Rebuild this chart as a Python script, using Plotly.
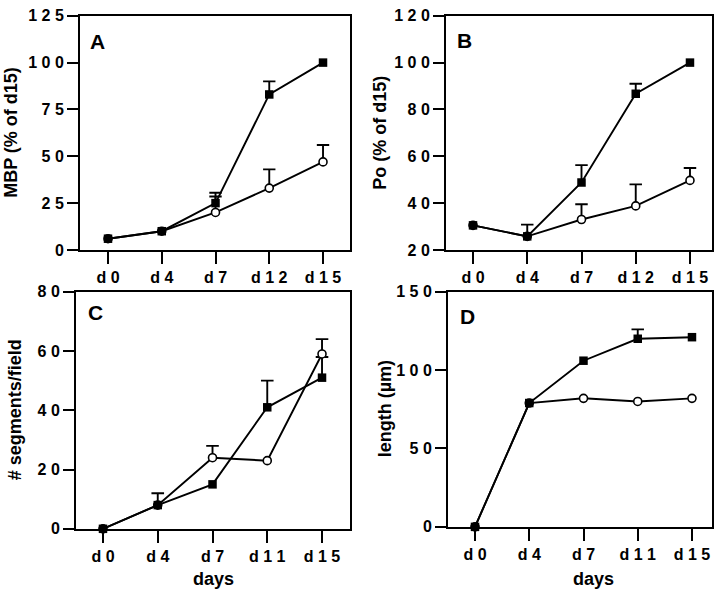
import plotly.graph_objects as go

# ---------------- data ----------------
days_AB = ["d0", "d4", "d7", "d12", "d15"]
days_CD = ["d0", "d4", "d7", "d11", "d15"]

A_filled = [6, 10, 25, 83, 100]
A_filled_up = [None, None, 30.5, 90, None]
A_open = [6, 10, 20, 33, 47]
A_open_up = [None, None, 28.5, 43, 56]

B_filled = [30.5, 25.8, 48.8, 86.7, 100]
B_filled_up = [None, 30.8, 56.2, 91, None]
B_open = [30.5, 25.8, 33, 38.8, 49.7]
B_open_up = [None, None, 39.5, 48, 55]

C_filled = [0, 8, 15, 41, 51]
C_filled_up = [None, None, None, 50, 58]
C_open = [0, 8, 24, 23, 59]
C_open_up = [None, 12, 28, None, 64]

D_filled = [0, 79, 106, 120, 121]
D_filled_up = [None, None, None, 126, None]
D_open = [0, 79, 82, 80, 82]
D_open_up = [None, None, None, None, None]

A_yticks = [0, 25, 50, 75, 100, 125]
B_yticks = [20, 40, 60, 80, 100, 120]
C_yticks = [0, 20, 40, 60, 80]
D_yticks = [0, 50, 100, 150]

W, H = 720, 600
FONT = "Liberation Sans, Arial, Helvetica, sans-serif"


def spaced(s):
    return " ".join(list(str(s)))


panels = [
    dict(cats=days_AB, f=A_filled, fu=A_filled_up, o=A_open, ou=A_open_up, yt=A_yticks,
         xpx=(80, 350), ypx=(8, 249), xr=(-0.521, 4.502), title="MBP (% of d15)", tx=11,
         lab="A", lxy=(97, 34), days=None),
    dict(cats=days_AB, f=B_filled, fu=B_filled_up, o=B_open, ou=B_open_up, yt=B_yticks,
         xpx=(446, 712), ypx=(8, 249), xr=(-0.498, 4.406), title="Po (% of d15)", tx=380,
         lab="B", lxy=(464, 33), days=None),
    dict(cats=days_CD, f=C_filled, fu=C_filled_up, o=C_open, ou=C_open_up, yt=C_yticks,
         xpx=(76, 350), ypx=(292, 536), xr=(-0.493, 4.511), title="# segments/field", tx=15,
         lab="C", lxy=(95, 313), days=213),
    dict(cats=days_CD, f=D_filled, fu=D_filled_up, o=D_open, ou=D_open_up, yt=D_yticks,
         xpx=(448, 712), ypx=(292, 534), xr=(-0.498, 4.369), title="length (µm)", tx=385,
         lab="D", lxy=(467, 317), days=593),
]

fig = go.Figure()
CAP = 0.115
annotations = []

for i, p in enumerate(panels):
    k = "" if i == 0 else str(i + 1)
    xa, ya = "x" + k, "y" + k
    xs = list(range(len(p["cats"])))

    # error bars (upper only) built from the data arrays
    for vals, ups in ((p["o"], p["ou"]), (p["f"], p["fu"])):
        ex, ey = [], []
        for x, v, u in zip(xs, vals, ups):
            if u is None:
                continue
            ex += [x, x, None, x - CAP, x + CAP, None]
            ey += [v, u, None, u, u, None]
        if ex:
            fig.add_trace(go.Scatter(x=ex, y=ey, mode="lines", xaxis=xa, yaxis=ya,
                                     line=dict(color="black", width=1.9),
                                     showlegend=False, hoverinfo="skip", cliponaxis=False))

    fig.add_trace(go.Scatter(x=xs, y=p["o"], mode="lines+markers", xaxis=xa, yaxis=ya,
                             line=dict(color="black", width=1.9),
                             marker=dict(symbol="circle", size=8, color="white",
                                         line=dict(color="black", width=1.6)),
                             showlegend=False, cliponaxis=False))
    fig.add_trace(go.Scatter(x=xs, y=p["f"], mode="lines+markers", xaxis=xa, yaxis=ya,
                             line=dict(color="black", width=1.9),
                             marker=dict(symbol="square", size=8.5, color="black",
                                         line=dict(color="black", width=0)),
                             showlegend=False, cliponaxis=False))

    xd = [p["xpx"][0] / W, p["xpx"][1] / W]
    yd = [1 - p["ypx"][1] / H, 1 - p["ypx"][0] / H]
    axfont = dict(family=FONT, size=16, color="black", weight="bold")
    fig.layout["xaxis" + k] = dict(
        domain=xd, range=list(p["xr"]), anchor=ya,
        tickvals=xs, ticktext=[spaced(c) for c in p["cats"]],
        ticks="outside", ticklen=12, tickwidth=1.8, tickcolor="black",
        showline=True, linewidth=2, linecolor="black", mirror=True,
        showgrid=False, zeroline=False, tickfont=axfont, fixedrange=True)
    fig.layout["yaxis" + k] = dict(
        domain=yd, range=[p["yt"][0], p["yt"][-1]], anchor=xa,
        tickvals=p["yt"], ticktext=[spaced(v) for v in p["yt"]],
        ticks="outside", ticklen=11, tickwidth=1.8, tickcolor="black",
        showline=True, linewidth=2, linecolor="black", mirror=True,
        showgrid=False, zeroline=False, tickfont=axfont, fixedrange=True)

    ymid = (p["ypx"][0] + p["ypx"][1]) / 2
    annotations.append(dict(x=p["tx"] / W, y=1 - ymid / H, xref="paper", yref="paper",
                            text=p["title"], textangle=-90, showarrow=False,
                            xanchor="center", yanchor="middle",
                            font=dict(family=FONT, size=18, color="black", weight="bold")))
    annotations.append(dict(x=p["lxy"][0] / W, y=1 - p["lxy"][1] / H, xref="paper", yref="paper",
                            text=p["lab"], showarrow=False, xanchor="center", yanchor="middle",
                            font=dict(family=FONT, size=21, color="black", weight="bold")))
    if p["days"] is not None:
        annotations.append(dict(x=p["days"] / W, y=1 - 588 / H, xref="paper", yref="paper",
                                text="days", showarrow=False, xanchor="center", yanchor="middle",
                                font=dict(family=FONT, size=18, color="black", weight="bold")))

fig.update_layout(width=W, height=H, margin=dict(l=0, r=0, t=0, b=0),
                  paper_bgcolor="white", plot_bgcolor="white",
                  annotations=annotations, showlegend=False)

fig.write_html("out.html", config={"displayModeBar": False},
               post_script="document.body.style.margin='0';document.body.style.padding='0';"
                           "document.body.style.overflow='hidden';")
